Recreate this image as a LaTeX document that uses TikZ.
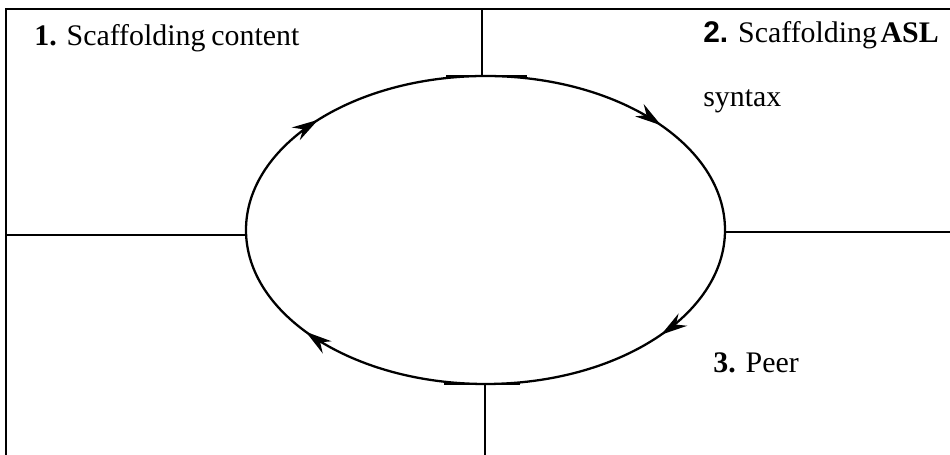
\documentclass[tikz,border=0pt]{standalone}
\usepackage{fontspec}
\setmainfont{Liberation Serif}
\newfontfamily\numsans{Liberation Sans}
\usepackage{tikz}
\usetikzlibrary{arrows.meta,decorations.markings}

\tikzset{
  frame/.style={line width=1.6pt},
  divider/.style={line width=1.1pt},
  ring/.style={line width=1.3pt},
  label/.style={anchor=base west, inner sep=0pt, font=\fontsize{17}{20}\selectfont},
  cycletip/.tip={Stealth[length=15pt,width=8.5pt]},
  flow/.style={postaction={decorate}, decoration={markings,
      mark=at position 0.102 with {\arrowreversed{cycletip}},
      mark=at position 0.390 with {\arrowreversed{cycletip}},
      mark=at position 0.598 with {\arrowreversed{cycletip}},
      mark=at position 0.898 with {\arrowreversed{cycletip}}}}
}

\begin{document}
\begin{tikzpicture}[x=0.02cm, y=0.02cm]
  \useasboundingbox (0,0) rectangle (950,455);
  % outer frame (left and top only)
  \coordinate (corner) at (6,446);
  \coordinate (frameR) at (950,446);
  \coordinate (frameB) at (6,0);
  \draw[frame] (frameB) -- (corner) -- (frameR);
  % the cycle
  \coordinate (c) at (485.5,225);
  \coordinate (loopN) at (482,379);
  \coordinate (loopS) at (485,71);
  \coordinate (loopW) at (246,220);
  \coordinate (loopE) at (725,223);
  \draw[ring, flow] (c) ellipse [x radius=239.5, y radius=154];
  \draw[divider] (loopN) ++(-36,0) -- ++(81,0);
  \draw[divider] (loopS) ++(-41,0) -- ++(76,0);
  % quadrant dividers
  \coordinate (topT) at (482,446);
  \coordinate (botT) at (485,0);
  \coordinate (leftT) at (6,220);
  \coordinate (rightT) at (950,223);
  \draw[divider] (loopN) -- (topT);
  \draw[divider] (loopS) -- (botT);
  \draw[divider] (loopW) -- (leftT);
  \draw[divider] (loopE) -- (rightT);
  % labels
  \node[label] (content) at (34,409) {\textbf{1.} Scaffolding\hspace{0.2em}content};
  \node[label] (asl) at (703,412) {{\numsans\bfseries 2.} Scaffolding\hspace{0.12em}\textbf{ASL}};
  \node[label] (syntax) at (703,348) {syntax};
  \node[label] (peer) at (713,82) {\textbf{3.} Peer};
\end{tikzpicture}
\end{document}
